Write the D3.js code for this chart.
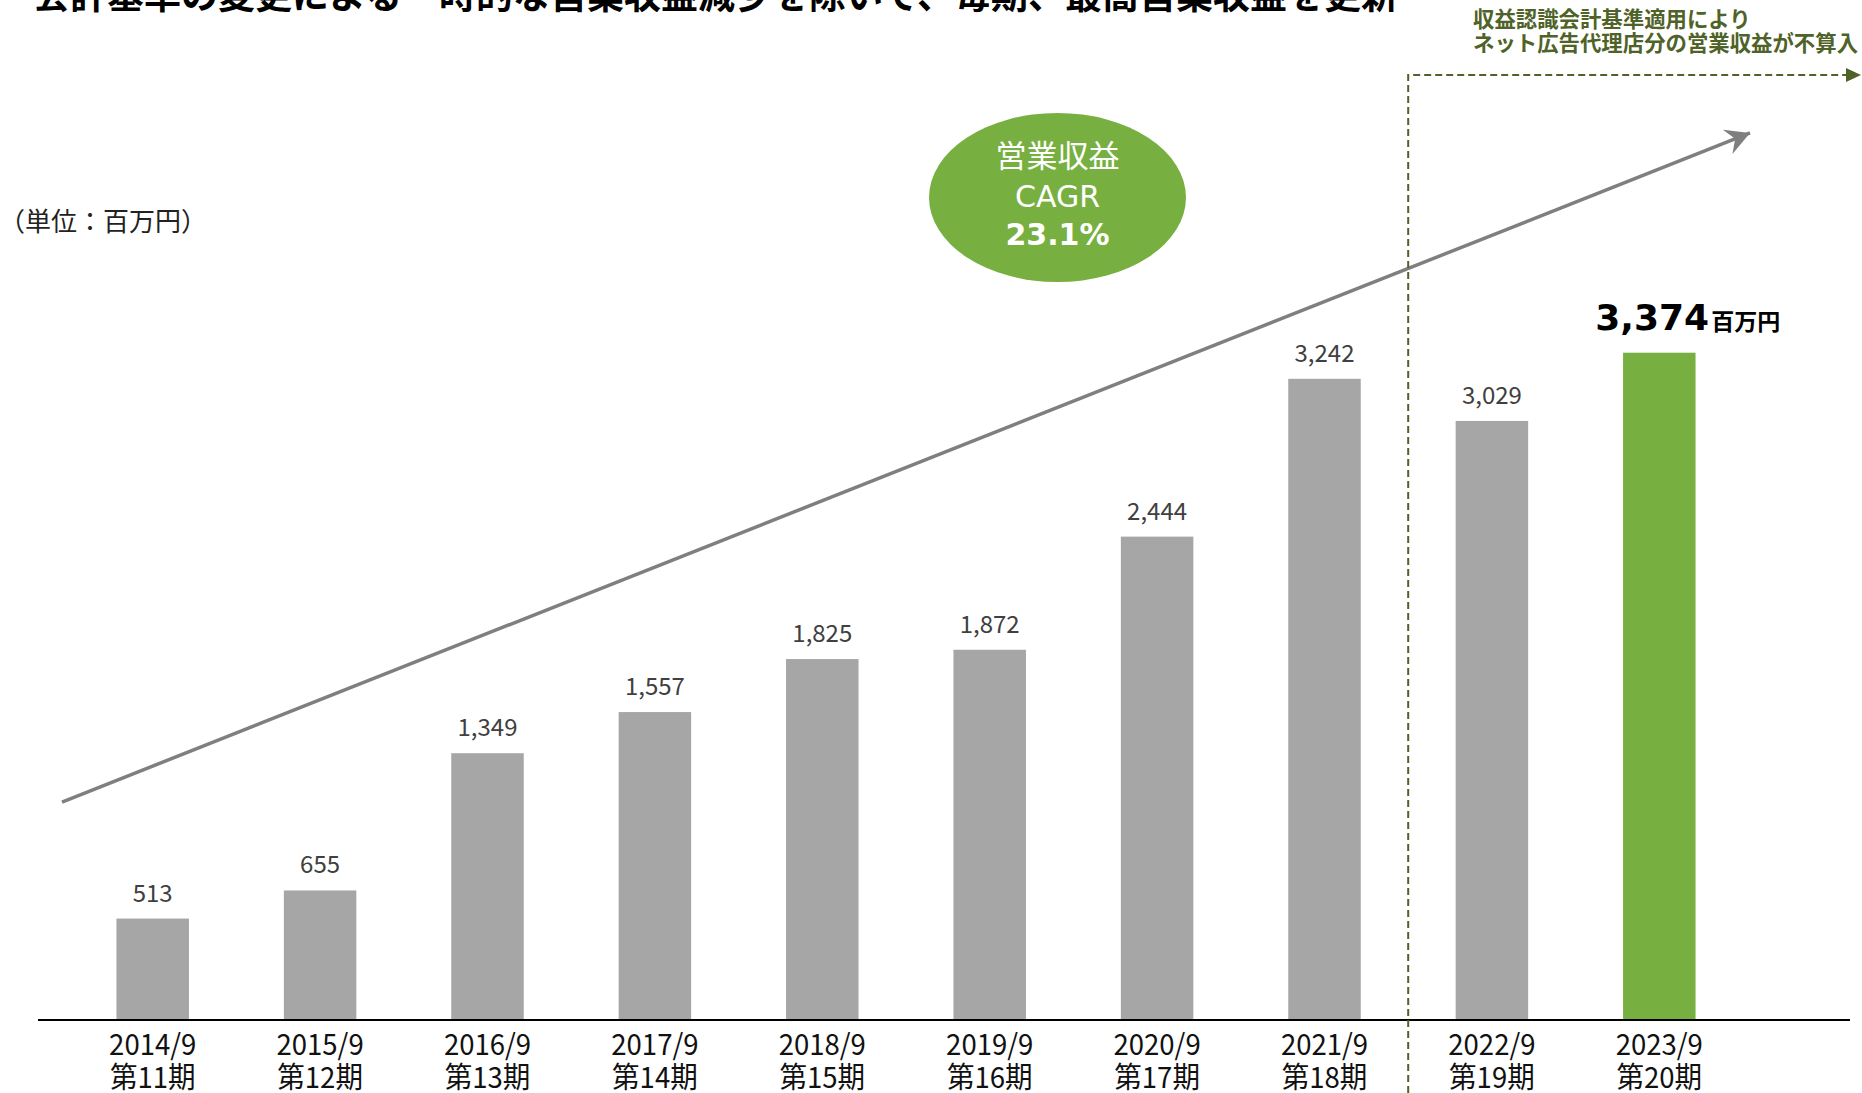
<!DOCTYPE html>
<html><head><meta charset="utf-8">
<script src="https://cdn.jsdelivr.net/npm/d3@7"></script>
<style>body{margin:0;background:#fff}svg{display:block}</style>
</head><body>
<script>
// ---- data ----
const categories = ["2014/9","2015/9","2016/9","2017/9","2018/9","2019/9","2020/9","2021/9","2022/9","2023/9"];
const periods = ["第11期","第12期","第13期","第14期","第15期","第16期","第17期","第18期","第19期","第20期"];
const values = [513,655,1349,1557,1825,1872,2444,3242,3029,3374];
const highlightCategory = "2023/9";
const changeAfter = "2021/9";
const titleText = "会計基準の変更による一時的な営業収益減少を除いて、毎期、最高営業収益を更新";
const unitText = "（単位：百万円）";
const cagrLines = ["営業収益","CAGR","23.1%"];
const noteLines = ["収益認識会計基準適用により","ネット広告代理店分の営業収益が不算入"];
const highlightUnit = "百万円";
const trendFrom = 1102, trendTo = 4485; // trend arrow ends, in value units

// ---- layout ----
const W = 1862, H = 1093;
const GRAY = "#a6a6a6", GREEN = "#77b041", OLIVE = "#4f6228";
const CJK = "'Noto Sans CJK JP', sans-serif";
const LAT = "'DejaVu Sans', 'Noto Sans CJK JP', sans-serif";

const svg = d3.select("body").append("svg").attr("width", W).attr("height", H)
  .style("background", "#fff");

const x = d3.scaleBand().domain(categories).range([69, 1743])
  .paddingInner(0.567).paddingOuter(0.2835);
const y = d3.scaleLinear().domain([0, 4000]).range([1020, 228.9]);
const fmt = d3.format(",");

// title (top cropped)
svg.append("text").attr("x", 33).attr("y", 9)
  .attr("font-family", CJK).attr("font-weight", 700).attr("font-size", 37)
  .attr("fill", "#000").text(titleText);

// unit
svg.append("text").attr("x", -1).attr("y", 231)
  .attr("font-family", CJK).attr("font-size", 26).attr("fill", "#222").text(unitText);

// trend arrow
const defs = svg.append("defs");
defs.append("marker").attr("id", "ah").attr("markerUnits", "userSpaceOnUse")
  .attr("viewBox", "-26 -15 28 30").attr("refX", 0).attr("refY", 0)
  .attr("markerWidth", 28).attr("markerHeight", 30).attr("orient", "auto")
  .append("path").attr("d", "M0,0 L-24,-13 L-16,0 L-24,13 Z").attr("fill", "#7f7f7f");

const [r0, r1] = x.range();
svg.append("line")
  .attr("x1", r0 - 7).attr("y1", y(trendFrom))
  .attr("x2", r1 + 7).attr("y2", y(trendTo))
  .attr("stroke", "#7f7f7f").attr("stroke-width", 3.5)
  .attr("marker-end", "url(#ah)");

// bars
svg.append("g").selectAll("rect").data(values).join("rect")
  .attr("x", (d, i) => x(categories[i]))
  .attr("y", d => y(d))
  .attr("width", x.bandwidth())
  .attr("height", d => y(0) - y(d))
  .attr("fill", (d, i) => categories[i] === highlightCategory ? GREEN : GRAY);

// value labels
svg.append("g").selectAll("text").data(values).join("text")
  .filter((d, i) => categories[i] !== highlightCategory)
  .attr("x", (d, i) => x(categories[i]) + x.bandwidth() / 2)
  .attr("y", d => y(d) - 17)
  .attr("text-anchor", "middle")
  .attr("font-family", CJK).attr("font-size", 24).attr("fill", "#404040")
  .text(d => fmt(d));

// highlight label
const hi = categories.indexOf(highlightCategory);
const hl = svg.append("text")
  .attr("x", x(highlightCategory) + x.bandwidth() / 2 - 64)
  .attr("y", y(values[hi]) - 23)
  .attr("fill", "#000").attr("font-weight", 700);
hl.append("tspan").attr("font-family", LAT).attr("font-size", 36).text(fmt(values[hi]));
hl.append("tspan").attr("font-family", CJK).attr("font-size", 23).attr("dx", 2).text(highlightUnit);

// axis line
svg.append("line").attr("x1", 38).attr("x2", 1850).attr("y1", y(0)).attr("y2", y(0))
  .attr("stroke", "#000").attr("stroke-width", 2);

// x labels
const xl = svg.append("g");
categories.forEach((c, i) => {
  const cx = x(c) + x.bandwidth() / 2;
  const g = xl.append("g").attr("transform", `translate(${cx},0) scale(0.95,1)`);
  g.append("text").attr("x", 0).attr("y", 1055).attr("text-anchor", "middle")
    .attr("font-family", CJK).attr("font-size", 29).attr("fill", "#111").text(c);
  g.append("text").attr("x", 0).attr("y", 1088).attr("text-anchor", "middle")
    .attr("font-family", CJK).attr("font-size", 29).attr("fill", "#111").text(periods[i]);
});

// accounting change divider
const divX = x(changeAfter) + x.bandwidth() / 2 + x.step() / 2;
svg.append("path")
  .attr("d", `M${divX},${H} L${divX},75 L1847,75`)
  .attr("fill", "none").attr("stroke", OLIVE).attr("stroke-width", 2)
  .attr("stroke-dasharray", "7,4");
svg.append("path").attr("d", "M1861,75 L1846,68 L1846,82 Z").attr("fill", OLIVE);
noteLines.forEach((t, i) => {
  svg.append("text").attr("x", 1473).attr("y", 27 + i * 24)
    .attr("font-family", CJK).attr("font-weight", 700).attr("font-size", 21.4)
    .attr("fill", OLIVE).text(t);
});

// CAGR ellipse
const cx = 1057.5, cy = 197.5;
svg.append("ellipse").attr("cx", cx).attr("cy", cy).attr("rx", 128.5).attr("ry", 84.5)
  .attr("fill", GREEN);
svg.append("text").attr("x", cx).attr("y", 167).attr("text-anchor", "middle")
  .attr("font-family", CJK).attr("font-size", 31).attr("fill", "#fff").text(cagrLines[0]);
svg.append("text").attr("x", cx).attr("y", 207).attr("text-anchor", "middle")
  .attr("font-family", LAT).attr("font-size", 30).attr("fill", "#fff").text(cagrLines[1]);
svg.append("text").attr("x", cx).attr("y", 245).attr("text-anchor", "middle")
  .attr("font-family", LAT).attr("font-weight", 700).attr("font-size", 30).attr("fill", "#fff").text(cagrLines[2]);
</script>
</body></html>
